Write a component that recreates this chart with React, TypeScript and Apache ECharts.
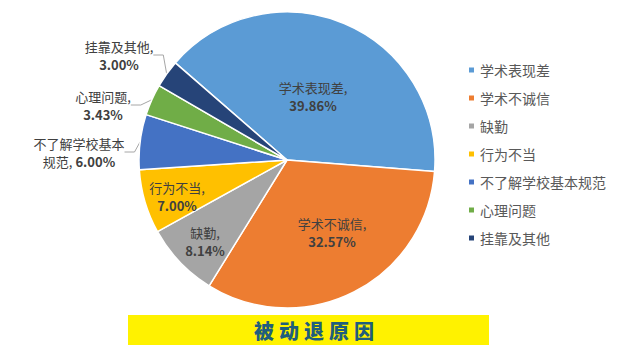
import React, { useEffect, useRef } from "react";
import * as echarts from "echarts";

const categories = ["学术表现差", "学术不诚信", "缺勤", "行为不当", "不了解学校基本规范", "心理问题", "挂靠及其他"];
const values = [39.86, 32.57, 8.14, 7.0, 6.0, 3.43, 3.0];
const colors = ["#5B9BD5", "#ED7D31", "#A5A5A5", "#FFC000", "#4472C4", "#70AD47", "#264478"];
const titleText = "被动退原因";

const labelCenters: [number, number][] = [
  [313, 96],
  [332, 232],
  [205, 241],
  [177, 196],
  [79, 152],
  [103, 105],
  [119, 55],
];

const FONT = "'Noto Sans CJK SC', 'Noto Sans', sans-serif";

export default function App() {
  const ref = useRef<HTMLDivElement>(null);
  useEffect(() => {
    if (!ref.current) return;
    const chart = echarts.init(ref.current, null, { renderer: "svg" });
    const titleChars = titleText.split("");
    chart.setOption({
      animation: false,
      backgroundColor: "#ffffff",
      textStyle: { fontFamily: FONT },
      color: colors,
      legend: {
        orient: "vertical",
        left: 462,
        top: 58,
        itemWidth: 7,
        itemHeight: 7,
        itemGap: 14,
        icon: "rect",
        data: categories,
        textStyle: { fontSize: 14, color: "#595959", fontFamily: FONT },
      },
      graphic: [
        {
          type: "rect",
          shape: { x: 128, y: 315, width: 361, height: 30 },
          style: { fill: "#FFF200" },
          z: 1,
        },
        ...titleChars.map((c, i) => ({
          type: "text",
          x: 314 + (i - 2) * 25,
          y: 330,
          z: 2,
          style: {
            text: c,
            fill: "#1F5E7C",
            font: `900 20px ${FONT}`,
            align: "center",
            verticalAlign: "middle",
          },
        })),
      ],
      series: [
        {
          type: "pie",
          center: [287, 160],
          radius: 148,
          startAngle: 139,
          clockwise: true,
          itemStyle: { borderColor: "#ffffff", borderWidth: 1.5 },
          data: categories.map((n, i) => ({
            name: n,
            value: values[i],
            label: { position: i < 4 ? "inside" : "outside" },
            labelLine: { show: i >= 4 },
          })),
          label: {
            fontFamily: FONT,
            fontSize: 13,
            color: "#404040",
            lineHeight: 18,
            align: "center",
            formatter: (p: any) => {
              const v = p.value.toFixed(2) + "%";
              if (p.name.length > 5) {
                return `{n|${p.name.slice(0, 7)}}\n{n|${p.name.slice(7)}, }{p|${v}}`;
              }
              return `{n|${p.name},}\n{p|${v}}`;
            },
            rich: {
              n: { fontSize: 13, color: "#404040", fontFamily: FONT, lineHeight: 18 },
              p: { fontSize: 13, color: "#404040", fontWeight: "bold", fontFamily: FONT, lineHeight: 18 },
            },
          },
          labelLine: {
            lineStyle: { color: "#A6A6A6", width: 1 },
            length: 10,
            length2: 10,
          },
          labelLayout: (params: any) => {
            const c = labelCenters[params.dataIndex];
            return {
              x: c[0],
              y: c[1],
              align: "center",
              verticalAlign: "middle",
            };
          },
        },
      ],
    });
    return () => chart.dispose();
  }, []);
  return (
    <div
      ref={ref}
      style={{ position: "absolute", left: 0, top: 0, width: 632, height: 356 }}
    />
  );
}
